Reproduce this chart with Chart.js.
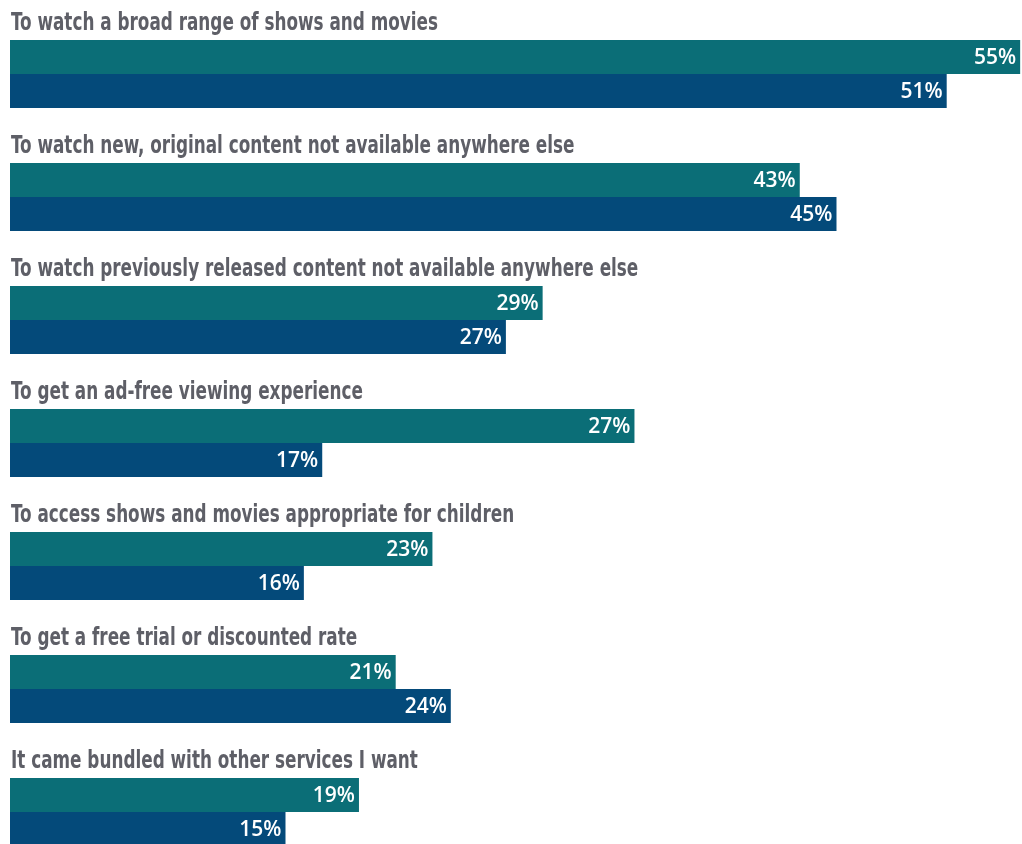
<!DOCTYPE html>
<html>
<head>
<meta charset="utf-8">
<script src="https://cdn.jsdelivr.net/npm/chart.js@4/dist/chart.umd.min.js"></script>
<style>
  html, body { margin: 0; padding: 0; background: #fff; overflow: hidden; }
  #wrap { position: relative; width: 1022px; height: 874px; }
</style>
</head>
<body>
<div id="wrap"><canvas id="chart"></canvas></div>
<script>
const categories = [
    "To watch a broad range of shows and movies",
    "To watch new, original content not available anywhere else",
    "To watch previously released content not available anywhere else",
    "To get an ad-free viewing experience",
    "To access shows and movies appropriate for children",
    "To get a free trial or discounted rate",
    "It came bundled with other services I want"
];

// bar lengths as drawn in the picture (the ad-free teal bar is drawn longer than its 27% label)
const tealValues = [55, 43, 29, 34, 23, 21, 19];
const blueValues = [51, 45, 27, 17, 16, 24, 15];

// printed value labels
const tealLabels = ["55%", "43%", "29%", "27%", "23%", "21%", "19%"];
const blueLabels = ["51%", "45%", "27%", "17%", "16%", "24%", "15%"];

const TEAL = "#0b6e77";
const BLUE = "#044a7a";
const LABEL_FONT = "bold 24px 'DejaVu Sans Condensed', 'Liberation Sans Narrow', 'Open Sans', sans-serif";
const SQUEEZE = 0.78; // titles are set in a condensed face in the original

// draws category titles above each group and value labels inside bar ends
const labelPlugin = {
    id: "labelPlugin",
    afterDatasetsDraw(chart) {
        const ctx = chart.ctx;
        const meta0 = chart.getDatasetMeta(0);
        const meta1 = chart.getDatasetMeta(1);
        const left = chart.chartArea.left;

        ctx.save();
        ctx.font = LABEL_FONT;
        ctx.fillStyle = "#5e5f67";
        ctx.textAlign = "left";
        ctx.textBaseline = "alphabetic";
        meta0.data.forEach((bar, i) => {
            const top = bar.y - bar.height / 2;
            ctx.save();
            ctx.translate(left + 1, top - 10);
            ctx.scale(SQUEEZE, 1);
            ctx.fillText(categories[i], 0, 0);
            ctx.restore();
        });

        ctx.font = "600 21px 'Open Sans', sans-serif";
        ctx.fillStyle = "#ffffff";
        ctx.textAlign = "right";
        ctx.textBaseline = "middle";
        [[meta0, tealLabels], [meta1, blueLabels]].forEach(([meta, labels]) => {
            meta.data.forEach((bar, i) => {
                ctx.fillText(labels[i], bar.x - 4, bar.y + 1);
            });
        });
        ctx.restore();
    }
};

new Chart(document.getElementById("chart"), {
    type: "bar",
    data: {
        labels: categories,
        datasets: [
            { data: tealValues, backgroundColor: TEAL, barPercentage: 1, categoryPercentage: 68 / 123 },
            { data: blueValues, backgroundColor: BLUE, barPercentage: 1, categoryPercentage: 68 / 123 }
        ]
    },
    options: {
        indexAxis: "y",
        responsive: true,
        maintainAspectRatio: false,
        animation: false,
        layout: { padding: { left: 10, right: 0, top: 12.5, bottom: 0.5 } },
        plugins: {
            legend: { display: false },
            tooltip: { enabled: false }
        },
        scales: {
            x: { display: false, min: 0, max: 55.1 },
            y: { display: false }
        }
    },
    plugins: [labelPlugin]
});
</script>
</body>
</html>
